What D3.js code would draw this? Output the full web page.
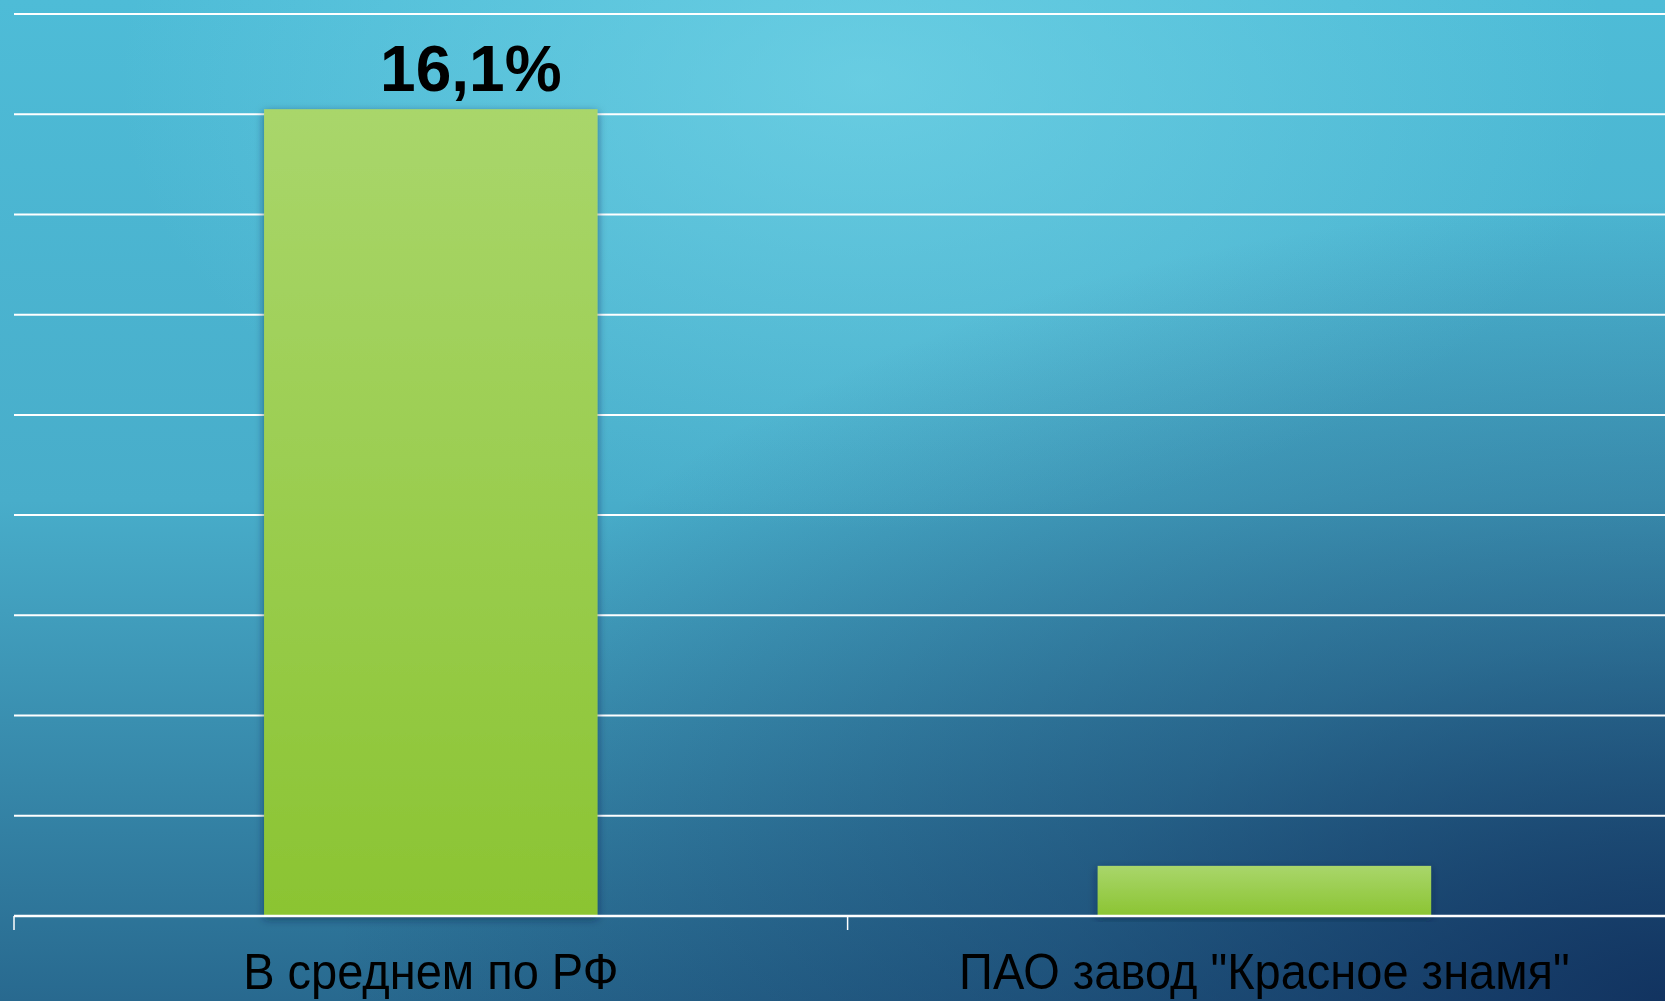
<!DOCTYPE html>
<html>
<head>
<meta charset="utf-8">
<script src="https://cdn.jsdelivr.net/npm/d3@7"></script>
<style>
  html, body { margin: 0; padding: 0; overflow: hidden; }
  svg { display: block; }
</style>
</head>
<body>
<svg id="chart"></svg>
<script>
// chart data
const categories = ["В среднем по РФ", "ПАО завод \"Красное знамя\""];
const values = [16.1, 1.0];
const valueLabels = ["16,1%", null];
const gridTicks = d3.range(0, 19, 2);

const width = 1665;
const height = 1001;
const margin = { top: 14, left: 14, bottom: 85 };
const bandStep = 833.6;

const svg = d3.select("#chart").attr("width", width).attr("height", height);
const defs = svg.append("defs");

// background: vertical base + highlight + dark bottom-right corner
const base = defs.append("linearGradient").attr("id", "bgBase")
  .attr("x1", 0).attr("y1", 0).attr("x2", 0).attr("y2", 1);
base.append("stop").attr("offset", "0%").attr("stop-color", "#4ebcd7");
base.append("stop").attr("offset", "50%").attr("stop-color", "#48adca");
base.append("stop").attr("offset", "100%").attr("stop-color", "#28698f");

const glow = defs.append("radialGradient").attr("id", "bgGlow")
  .attr("cx", "52%").attr("cy", "8%").attr("r", "45%");
glow.append("stop").attr("offset", "0%").attr("stop-color", "#7ad9ea").attr("stop-opacity", 0.6);
glow.append("stop").attr("offset", "100%").attr("stop-color", "#7ad9ea").attr("stop-opacity", 0);

const shade = defs.append("radialGradient").attr("id", "bgShade")
  .attr("cx", "100%").attr("cy", "100%").attr("r", "80%");
shade.append("stop").attr("offset", "0%").attr("stop-color", "#0e2a58").attr("stop-opacity", 0.85);
shade.append("stop").attr("offset", "45%").attr("stop-color", "#0e2a58").attr("stop-opacity", 0.4);
shade.append("stop").attr("offset", "100%").attr("stop-color", "#0e2a58").attr("stop-opacity", 0);

svg.append("rect").attr("width", width).attr("height", height).attr("fill", "url(#bgBase)");
svg.append("rect").attr("width", width).attr("height", height).attr("fill", "url(#bgGlow)");
svg.append("rect").attr("width", width).attr("height", height).attr("fill", "url(#bgShade)");

// bar fill + soft shadow
const barGrad = defs.append("linearGradient").attr("id", "barGrad")
  .attr("x1", 0).attr("y1", 0).attr("x2", 0).attr("y2", 1);
barGrad.append("stop").attr("offset", "0%").attr("stop-color", "#a9d66b");
barGrad.append("stop").attr("offset", "100%").attr("stop-color", "#8bc432");

const shadow = defs.append("filter").attr("id", "barShadow")
  .attr("x", "-10%").attr("y", "-10%").attr("width", "120%").attr("height", "120%");
shadow.append("feDropShadow").attr("dx", 0).attr("dy", 3).attr("stdDeviation", 4)
  .attr("flood-color", "#0a2440").attr("flood-opacity", 0.55);

// scales
const x = d3.scaleBand()
  .domain(categories)
  .range([margin.left, margin.left + bandStep * categories.length])
  .paddingInner(0.6)
  .paddingOuter(0.3);

const y = d3.scaleLinear()
  .domain([0, 18])
  .range([height - margin.bottom, margin.top]);

// gridlines
svg.append("g")
  .selectAll("line")
  .data(gridTicks)
  .join("line")
  .attr("x1", margin.left)
  .attr("x2", width)
  .attr("y1", (d) => y(d))
  .attr("y2", (d) => y(d))
  .attr("stroke", "#ffffff")
  .attr("stroke-width", 2);

// bars
svg.append("g")
  .selectAll("rect")
  .data(values)
  .join("rect")
  .attr("x", (d, i) => x(categories[i]))
  .attr("width", x.bandwidth())
  .attr("y", (d) => y(d))
  .attr("height", (d) => y(0) - y(d))
  .attr("fill", "url(#barGrad)")
  .attr("filter", "url(#barShadow)");

// category axis
const xAxis = svg.append("g")
  .attr("transform", `translate(0,${y(0)})`)
  .call(d3.axisBottom(x).tickSize(0).tickPadding(38));
xAxis.select(".domain").remove();
xAxis.selectAll("text")
  .attr("fill", "#000")
  .attr("font-family", "'Liberation Sans', Arial, sans-serif")
  .attr("font-size", 50)
  .attr("transform", "scale(0.94,1)");

xAxis.append("line")
  .attr("x1", margin.left)
  .attr("x2", width)
  .attr("stroke", "#ffffff")
  .attr("stroke-width", 2.5);

// boundary ticks between categories
xAxis.append("g")
  .selectAll("line")
  .data(d3.range(categories.length + 1))
  .join("line")
  .attr("x1", (i) => margin.left + x.step() * i)
  .attr("x2", (i) => margin.left + x.step() * i)
  .attr("y1", 0)
  .attr("y2", 14)
  .attr("stroke", "#ffffff")
  .attr("stroke-width", 1.5);

// value labels
svg.append("g")
  .selectAll("text")
  .data(values)
  .join("text")
  .attr("x", (d, i) => x(categories[i]) + x.bandwidth() / 2 + 40)
  .attr("y", (d) => y(d) - 18)
  .attr("text-anchor", "middle")
  .attr("font-family", "'Liberation Sans', Arial, sans-serif")
  .attr("font-weight", "bold")
  .attr("font-size", 64)
  .attr("fill", "#000")
  .text((d, i) => valueLabels[i] || "");
</script>
</body>
</html>
